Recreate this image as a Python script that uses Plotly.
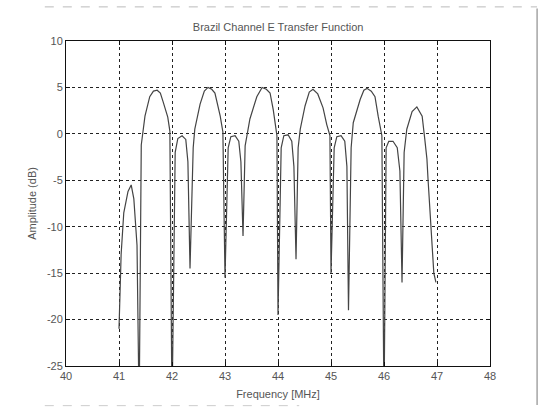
import plotly.graph_objects as go

# Frequency samples (MHz) and amplitude (dB)
freq_mhz = [41.00, 41.04, 41.09, 41.17, 41.23, 41.28, 41.34, 41.38, 41.42, 41.49, 41.58, 41.65, 41.72, 41.78, 41.83, 41.92, 41.96,
            42.00, 42.06, 42.11, 42.19, 42.26, 42.30, 42.34, 42.40, 42.43, 42.53, 42.61, 42.68, 42.75, 42.81, 42.91, 42.96,
            43.00, 43.06, 43.11, 43.19, 43.26, 43.30, 43.34, 43.38, 43.47, 43.60, 43.70, 43.78, 43.85, 43.91, 43.98,
            44.00, 44.06, 44.11, 44.19, 44.26, 44.30, 44.34, 44.38, 44.42, 44.51, 44.59, 44.66, 44.75, 44.85, 44.92, 44.98,
            45.00, 45.06, 45.11, 45.19, 45.26, 45.30, 45.33, 45.38, 45.42, 45.55, 45.62, 45.68, 45.76, 45.83, 45.89, 45.96,
            46.00, 46.04, 46.09, 46.17, 46.25, 46.30, 46.34, 46.38, 46.43, 46.53, 46.62, 46.72, 46.77, 46.81, 46.83, 46.91, 46.94, 46.98]

amp_db = [-21.0, -13.0, -8.5, -6.2, -5.5, -7.0, -12.0, -30.0, -1.2, 1.9, 4.0, 4.6, 4.7, 4.4, 3.5, 1.8, 0.3,
          -30.0, -2.0, -0.5, -0.2, -0.6, -3.0, -14.5, -1.5, 0.5, 3.2, 4.6, 5.0, 4.8, 4.4, 1.9, 0.2,
          -15.5, -1.5, -0.3, -0.2, -0.8, -3.0, -11.0, -1.3, 1.6, 4.0, 5.0, 4.8, 4.4, 2.6, -0.2,
          -19.5, -1.5, -0.2, -0.1, -0.8, -3.5, -13.5, -1.5, 0.5, 3.0, 4.5, 4.8, 4.3, 2.8, 1.0, -0.2,
          -15.0, -1.5, -0.3, -0.2, -0.8, -3.5, -19.0, -1.5, 1.2, 3.7, 4.7, 4.9, 4.6, 4.0, 1.9, -0.2,
          -30.0, -1.5, -0.8, -0.8, -1.5, -4.0, -16.0, -2.0, 0.5, 2.4, 2.9, 1.9, -0.6, -2.7, -4.8, -11.5, -15.0, -16.0]

x_ticks = [40, 41, 42, 43, 44, 45, 46, 47, 48]
y_ticks = [10, 5, 0, -5, -10, -15, -20, -25]
y_tick_text = ["10", "5", "0", "-5", "-10", "-15", "-20", "-25"]

title_text = "Brazil Channel E Transfer Function"
x_title = "Frequency [MHz]"
y_title = "Amplitude (dB)"

font_family = "Liberation Sans, Arial, sans-serif"
text_color = "#555555"

fig = go.Figure()
fig.add_trace(go.Scatter(
    x=freq_mhz, y=amp_db, mode="lines",
    line=dict(color="#444444", width=1.2),
    showlegend=False, hoverinfo="skip",
))

axis_common = dict(
    showline=True, linecolor="#111111", linewidth=1, mirror="ticks",
    ticks="inside", ticklen=4, tickcolor="#111111",
    showgrid=True, gridcolor="#222222", gridwidth=1.2, griddash="3px,3px",
    zeroline=False,
    tickfont=dict(family=font_family, size=11, color=text_color),
)

fig.update_xaxes(range=[40, 48], tickvals=x_ticks, ticktext=[str(v) for v in x_ticks],
                 title=dict(text=x_title, font=dict(family=font_family, size=11, color=text_color), standoff=9),
                 **axis_common)
fig.update_yaxes(range=[-25, 10], tickvals=y_ticks, ticktext=y_tick_text,
                 title=dict(text=y_title, font=dict(family=font_family, size=11, color=text_color), standoff=8),
                 **axis_common)

fig.update_layout(
    width=540, height=411,
    margin=dict(l=66, r=50, t=41, b=42),
    paper_bgcolor="white", plot_bgcolor="white",
    title=dict(text=title_text, x=0.515, xanchor="center", y=1 - 27 / 411, yanchor="middle",
               font=dict(family=font_family, size=11, color=text_color)),
    shapes=[
        dict(type="line", xref="paper", yref="paper", x0=1.111, x1=1.111, y0=-0.12, y1=1.1,
             line=dict(color="#777777", width=1)),
        dict(type="line", xref="paper", yref="paper", x0=-0.05, x1=1.111, y0=1.105, y1=1.105,
             line=dict(color="#bbbbbb", width=1, dash="dash")),
        dict(type="line", xref="paper", yref="paper", x0=-0.05, x1=0.55, y0=-0.122, y1=-0.122,
             line=dict(color="#cccccc", width=1, dash="dash")),
    ],
)

fig.write_html("out.html")
